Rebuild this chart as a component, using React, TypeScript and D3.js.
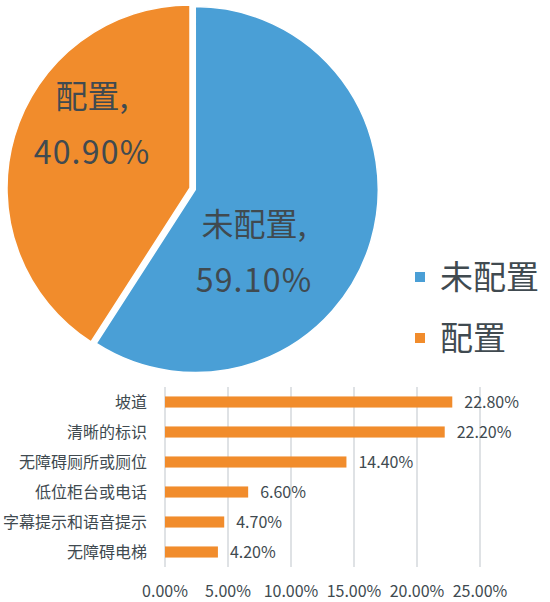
import React from "react";
import * as d3 from "d3";

// pie data
const pieLabels = ["未配置", "配置"];
const pieValues = [59.1, 40.9];
const pieColors = ["#4A9FD6", "#F18C2C"];

// bar data
const barCategories = ["坡道", "清晰的标识", "无障碍厕所或厕位", "低位柜台或电话", "字幕提示和语音提示", "无障碍电梯"];
const barValues = [22.8, 22.2, 14.4, 6.6, 4.7, 4.2];
const xTicks = [0, 5, 10, 15, 20, 25];

const width = 550;
const height = 602;
const font = "'Noto Sans CJK SC', 'Noto Sans', sans-serif";
const textColor = "#404a50";

const App = (): JSX.Element => {
    // pie setup
    const cx = 190;
    const cy = 188;
    const r = 183;
    const explode = 5.5;
    const pie = d3.pie<number>().sort(null).value((d) => d);
    const arcs = pie(pieValues);
    const arc = d3.arc<d3.PieArcDatum<number>>().innerRadius(0).outerRadius(r);
    // label offsets from the pie centre (best-fit like placement)
    const labelOffsets = [
        { dx: 64, dy: 62 },
        { dx: -98, dy: -66 },
    ];

    // bar setup
    const margin = { top: 387, bottom: 567, left: 165 };
    const x = d3.scaleLinear().domain([0, 25]).range([margin.left, 480]);
    const y = d3.scaleBand().domain(barCategories).range([margin.top, margin.bottom]).paddingInner(0.63).paddingOuter(0.315);

    return (
        <svg
            width={width}
            height={height}
            viewBox={`0 0 ${width} ${height}`}
            style={{ position: "absolute", left: 0, top: 0, background: "#fff" }}
            fontFamily={font}
        >
            {/* pie */}
            <g>
                {arcs.map((a, i) => {
                    const mid = (a.startAngle + a.endAngle) / 2;
                    const off = i === 0 ? explode : 0;
                    const tx = cx + Math.sin(mid) * off;
                    const ty = cy - Math.cos(mid) * off;
                    return (
                        <path
                            key={pieLabels[i]}
                            d={arc(a) || ""}
                            transform={`translate(${tx},${ty})`}
                            fill={pieColors[i]}
                            stroke="#fff"
                            strokeWidth={1.5}
                            strokeLinejoin="round"
                        />
                    );
                })}
                {arcs.map((a, i) => {
                    const lx = cx + labelOffsets[i].dx;
                    const ly = cy + labelOffsets[i].dy;
                    return (
                        <text key={"l" + i} x={lx} textAnchor="middle" fontSize={32} fill={textColor}>
                            <tspan x={lx} y={ly - 14}>{pieLabels[i]},</tspan>
                            <tspan x={lx} y={ly + 42} letterSpacing={1.2}>{pieValues[i].toFixed(2)}%</tspan>
                        </text>
                    );
                })}
            </g>

            {/* legend */}
            <g>
                {pieLabels.map((name, i) => (
                    <g key={name} transform={`translate(415,${272 + i * 61})`}>
                        <rect width={10} height={10} fill={pieColors[i]} />
                        <text x={25} y={5} dy="0.36em" fontSize={33} fill={textColor}>
                            {name}
                        </text>
                    </g>
                ))}
            </g>

            {/* bar chart grid */}
            <g>
                {xTicks.map((t) => (
                    <line key={t} x1={x(t)} x2={x(t)} y1={margin.top} y2={margin.bottom} stroke="#d5d9dd" strokeWidth={1.5} />
                ))}
                {xTicks.map((t) => (
                    <text key={"t" + t} x={x(t)} y={597} textAnchor="middle" fontSize={16} fill={textColor}>
                        {t.toFixed(2)}%
                    </text>
                ))}
            </g>

            {/* bars */}
            <g>
                {barCategories.map((c, i) => {
                    const yy = y(c) as number;
                    const h = y.bandwidth();
                    return (
                        <g key={c}>
                            <rect x={x(0)} y={yy} width={x(barValues[i]) - x(0)} height={h} fill="#F18C2C" />
                            <text x={147} y={yy + h / 2} dy="0.36em" textAnchor="end" fontSize={16} fill={textColor}>
                                {c}
                            </text>
                            <text x={x(barValues[i]) + 12} y={yy + h / 2} dy="0.36em" fontSize={16} fill={textColor}>
                                {barValues[i].toFixed(2)}%
                            </text>
                        </g>
                    );
                })}
            </g>
        </svg>
    );
};

export default App;
